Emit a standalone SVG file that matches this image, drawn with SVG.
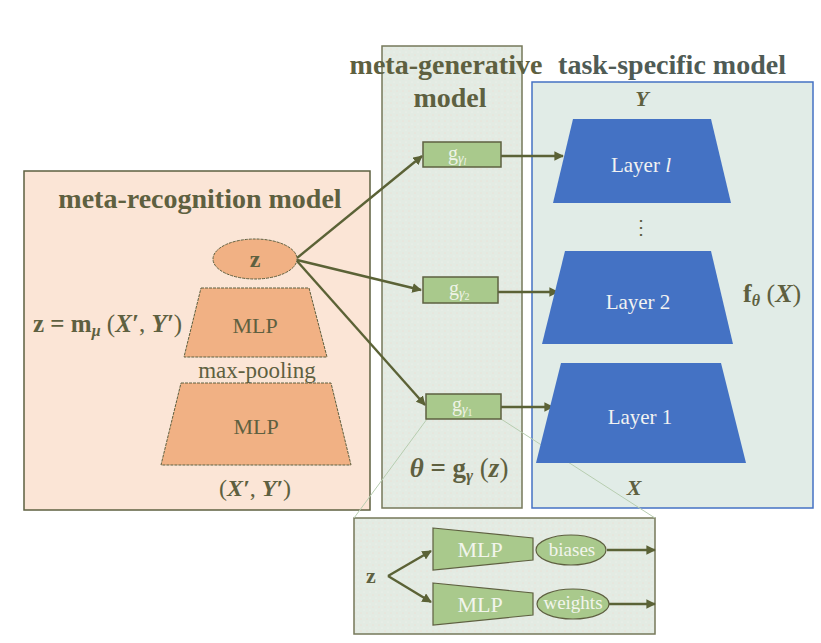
<svg xmlns="http://www.w3.org/2000/svg" width="821" height="643" viewBox="0 0 821 643">
<defs>
<style>
text{font-family:"Liberation Serif","Times New Roman",serif}
.t{fill:#5e6040}
.title{font-size:28px;font-weight:bold}
.math{font-weight:bold;font-style:italic}
.lay{font-size:21px;fill:#f2f2f2}
.gl{fill:#eef3e6}
.wl{fill:#f2f5ec}
.con{stroke:#5b6236;stroke-width:2.4;fill:none}
.thin{stroke:#b7cdb0;stroke-width:1;fill:none}
.gbox{fill:#a9c98c;stroke:#5e6040;stroke-width:1.5}
.layer{fill:#4472c4}
.orange{fill:#f1b184;stroke:#5e6040;stroke-width:1;stroke-dasharray:3 1}
</style>
<pattern id="dots" width="6" height="6" patternUnits="userSpaceOnUse">
<rect width="6" height="6" fill="#e3ebe3"/>
<circle cx="1" cy="1" r="0.6" fill="#f4d8cc"/>
<circle cx="4" cy="4" r="0.5" fill="#f6f6f2"/>
</pattern>
<marker id="ah" viewBox="0 0 10 10" refX="9" refY="5" markerWidth="4" markerHeight="4" orient="auto" markerUnits="strokeWidth">
<path d="M0,0 L10,5 L0,10 z" fill="#5b6236"/>
</marker>
</defs>
<rect width="821" height="643" fill="#ffffff"/>

<g id="meta-recognition-box">
<rect x="24" y="171" width="346" height="339" fill="#fbe5d6" stroke="#5e6040" stroke-width="1.5"/>
<text class="t title" x="200" y="208" text-anchor="middle">meta-recognition model</text>
</g>

<g id="meta-generative-box">
<rect x="382" y="46" width="140" height="462" fill="url(#dots)" stroke="#76785a" stroke-width="1.5"/>
</g>

<g id="task-specific-box">
<rect x="532" y="82" width="281" height="426" fill="#e1ece7" stroke="#4472c4" stroke-width="1.5"/>
</g>

<g id="inset-box">
<rect x="354" y="518" width="301" height="116" fill="url(#dots)" stroke="#76785a" stroke-width="1.5"/>
</g>

<text class="t title" x="446" y="74" text-anchor="middle">meta-generative</text>
<text class="t title" x="450" y="107" text-anchor="middle">model</text>
<text class="t title" x="672" y="74" text-anchor="middle" style="fill:#4f5b55">task-specific model</text>

<g id="connectors">
<line class="thin" x1="427" y1="419" x2="354" y2="518"/>
<line class="thin" x1="501" y1="419" x2="655" y2="518"/>
<line class="con" x1="297" y1="258" x2="422" y2="156" marker-end="url(#ah)"/>
<line class="con" x1="297" y1="260" x2="421" y2="290" marker-end="url(#ah)"/>
<line class="con" x1="297" y1="261" x2="425" y2="405" marker-end="url(#ah)"/>
<line class="con" x1="501" y1="156" x2="563" y2="156" marker-end="url(#ah)"/>
<line class="con" x1="498" y1="292" x2="558" y2="292" marker-end="url(#ah)"/>
<line class="con" x1="501" y1="407" x2="553" y2="407" marker-end="url(#ah)"/>
<line class="con" x1="388" y1="576" x2="431" y2="551" marker-end="url(#ah)"/>
<line class="con" x1="388" y1="576" x2="431" y2="602" marker-end="url(#ah)"/>
<line class="con" x1="607" y1="550" x2="655" y2="550" marker-end="url(#ah)"/>
<line class="con" x1="609" y1="604" x2="655" y2="604" marker-end="url(#ah)"/>
</g>

<g id="z-node">
<ellipse class="orange" cx="255" cy="259" rx="42" ry="20"/>
<text class="t" x="255" y="267" text-anchor="middle" font-size="24" font-weight="bold">z</text>
</g>
<g id="mlp-top">
<polygon class="orange" points="201,288 309,288 327,357 184,357"/>
<text class="t" x="255" y="333" text-anchor="middle" font-size="22">MLP</text>
</g>
<text class="t" x="257" y="378" text-anchor="middle" font-size="23">max-pooling</text>
<g id="mlp-bottom">
<polygon class="orange" points="181,383 331,383 351,465 161,465"/>
<text class="t" x="256" y="434" text-anchor="middle" font-size="22">MLP</text>
</g>
<text class="t" x="255" y="496" text-anchor="middle" font-size="24"><tspan>(</tspan><tspan class="math">X′</tspan><tspan>, </tspan><tspan class="math">Y′</tspan><tspan>)</tspan></text>
<text class="t" x="33" y="332" font-size="25"><tspan font-weight="bold">z = m</tspan><tspan font-weight="bold" font-style="italic" font-size="16" dy="4">μ</tspan><tspan dy="-4"> (</tspan><tspan class="math">X′</tspan><tspan>, </tspan><tspan class="math">Y′</tspan><tspan>)</tspan></text>

<g id="g-l">
<rect class="gbox" x="423" y="142" width="78" height="25"/>
<text class="gl" x="448" y="160" font-size="20">g<tspan font-size="14" font-style="italic" dy="3">γ</tspan><tspan font-size="10" font-style="italic" dy="2">l</tspan></text>
</g>
<g id="g-2">
<rect class="gbox" x="423" y="277" width="75" height="26"/>
<text class="gl" x="449" y="295" font-size="20">g<tspan font-size="14" font-style="italic" dy="3">γ</tspan><tspan font-size="10" dy="2">2</tspan></text>
</g>
<g id="g-1">
<rect class="gbox" x="426" y="394" width="75" height="25"/>
<text class="gl" x="452" y="411" font-size="20">g<tspan font-size="14" font-style="italic" dy="3">γ</tspan><tspan font-size="10" dy="2">1</tspan></text>
</g>
<text class="t" x="459" y="477" text-anchor="middle" font-size="27"><tspan class="math">θ</tspan><tspan font-weight="bold"> = g</tspan><tspan class="math" font-size="17" dy="4">γ</tspan><tspan dy="-4"> (</tspan><tspan class="math">z</tspan><tspan>)</tspan></text>

<text class="t math" x="642" y="106" text-anchor="middle" font-size="22">Y</text>
<g id="layer-l">
<polygon class="layer" points="573,119 711,119 731,203 553,203"/>
<text class="lay" x="641" y="172" text-anchor="middle">Layer <tspan font-style="italic">l</tspan></text>
</g>
<text class="t" x="641" y="234" text-anchor="middle" font-size="20">⋮</text>
<g id="layer-2">
<polygon class="layer" points="565,251 711,251 733,344 542,344"/>
<text class="lay" x="638" y="309" text-anchor="middle">Layer 2</text>
</g>
<g id="layer-1">
<polygon class="layer" points="561,363 721,363 746,463 536,463"/>
<text class="lay" x="640" y="424" text-anchor="middle">Layer 1</text>
</g>
<text class="t" x="743" y="302" font-size="26"><tspan font-weight="bold">f</tspan><tspan class="math" font-size="16" dy="4">θ</tspan><tspan dy="-4"> (</tspan><tspan class="math">X</tspan><tspan>)</tspan></text>
<text class="t math" x="634" y="495" text-anchor="middle" font-size="22">X</text>

<text class="t" x="371" y="583" text-anchor="middle" font-size="22" font-weight="bold">z</text>
<g id="inset-mlp-1">
<polygon points="433,528 533,538 533,560 433,570" fill="#a9c98c" stroke="#5e6040" stroke-width="1.2"/>
<text class="wl" x="480" y="557" text-anchor="middle" font-size="22">MLP</text>
</g>
<g id="inset-mlp-2">
<polygon points="433,583 533,593 533,615 433,625" fill="#a9c98c" stroke="#5e6040" stroke-width="1.2"/>
<text class="wl" x="480" y="612" text-anchor="middle" font-size="22">MLP</text>
</g>
<g id="biases">
<ellipse cx="571" cy="550" rx="35" ry="15" fill="#a9c98c" stroke="#5e6040" stroke-width="1.2"/>
<text class="wl" x="572" y="556" text-anchor="middle" font-size="19">biases</text>
</g>
<g id="weights">
<ellipse cx="573" cy="604" rx="36" ry="15" fill="#a9c98c" stroke="#5e6040" stroke-width="1.2"/>
<text class="wl" x="573" y="609" text-anchor="middle" font-size="19">weights</text>
</g>
</svg>
